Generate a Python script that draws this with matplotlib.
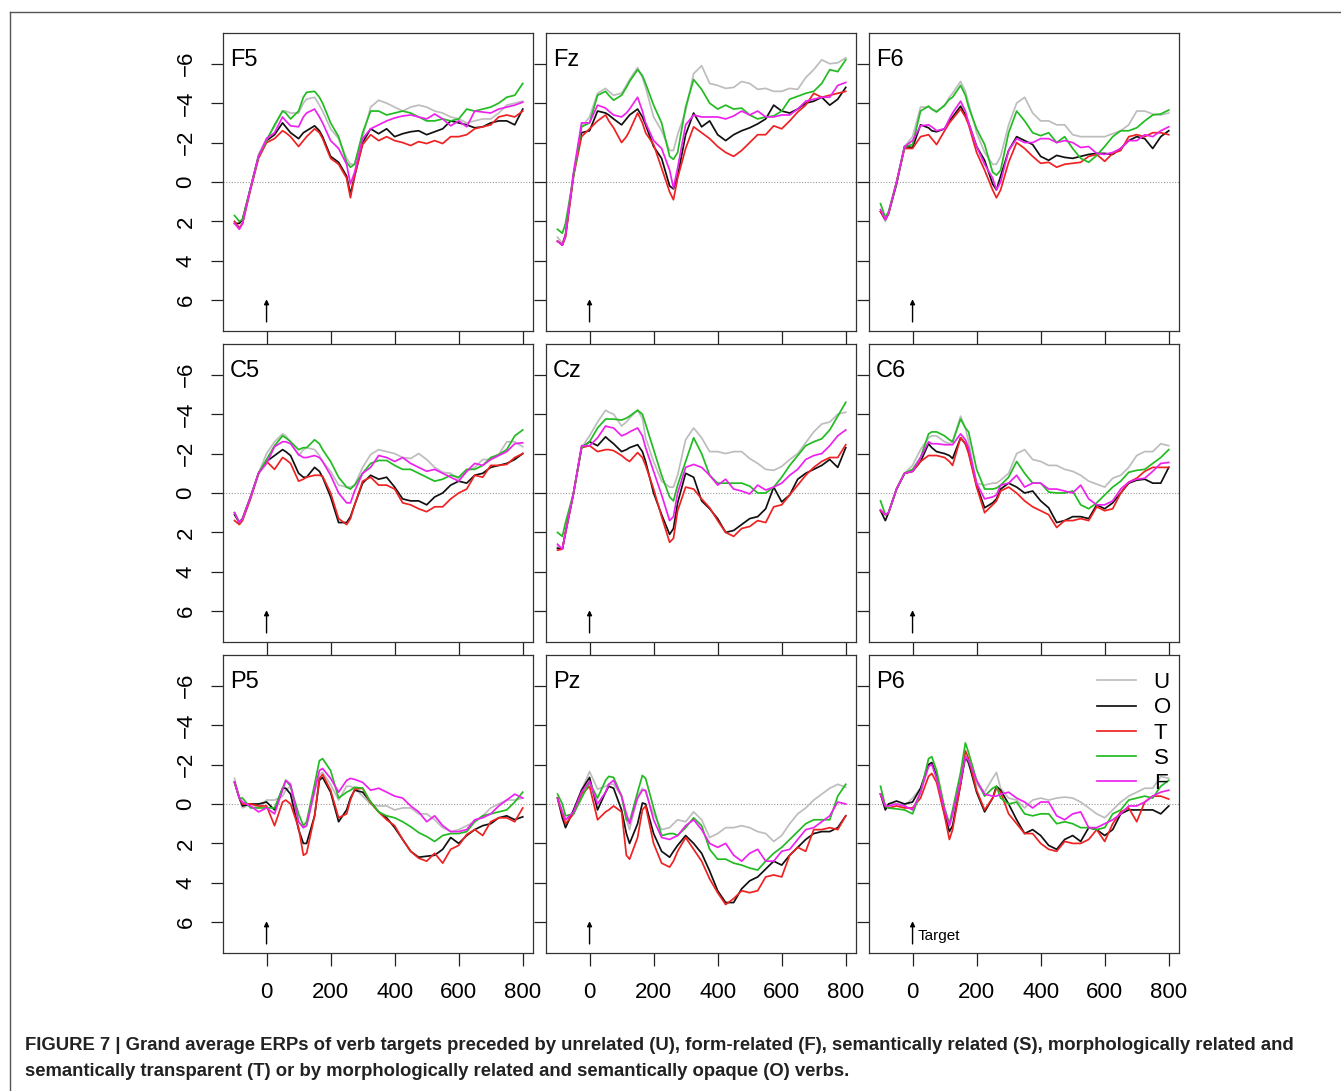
import matplotlib
matplotlib.use('Agg')
import matplotlib.pyplot as plt
from matplotlib.lines import Line2D

plt.rcParams['font.family'] = ['Liberation Sans', 'DejaVu Sans']

# time points (ms)
times = [-100, -85, -75, -50, -25, 0, 25, 50, 60, 75, 100, 115, 125, 150, 165, 175,
         200, 225, 250, 262, 275, 300, 325, 350, 375, 400, 425, 450, 475, 500, 525,
         550, 575, 600, 625, 650, 675, 700, 725, 750, 775, 800]

# --- F5 ---
f5_u = [2.0, 2.3, 2.1, 0.3, -1.4, -2.2, -2.8, -3.6, -3.6, -3.5, -3.5, -4.0, -4.2, -4.3, -3.9, -3.6, -2.7, -2.2, -1.2, -0.9, -0.9, -2.3, -3.8, -4.15, -4.0, -3.8, -3.6, -3.8, -3.9, -3.8, -3.6, -3.5, -3.3, -3.2, -3.0, -3.1, -3.2, -3.2, -3.5, -3.9, -4.0, -4.1]
f5_o = [2.1, 2.1, 1.9, 0.3, -1.3, -2.1, -2.4, -3.0, -2.8, -2.5, -2.2, -2.5, -2.6, -2.85, -2.6, -2.3, -1.3, -1.0, -0.3, 0.6, -0.3, -2.0, -2.7, -2.45, -2.7, -2.3, -2.45, -2.55, -2.6, -2.4, -2.55, -2.7, -3.1, -3.0, -2.9, -2.75, -2.8, -3.0, -3.1, -3.1, -2.9, -3.7]
f5_t = [2.0, 2.35, 2.1, 0.4, -1.2, -2.0, -2.2, -2.6, -2.5, -2.3, -1.8, -2.1, -2.3, -2.7, -2.5, -2.2, -1.2, -0.9, -0.2, 0.8, -0.3, -1.9, -2.4, -2.1, -2.3, -2.1, -2.0, -1.85, -2.05, -1.95, -2.1, -1.95, -2.3, -2.3, -2.4, -2.7, -2.8, -2.9, -3.3, -3.4, -3.3, -3.6]
f5_s = [1.7, 2.0, 1.9, 0.3, -1.3, -2.1, -2.9, -3.6, -3.5, -3.2, -3.6, -4.3, -4.55, -4.6, -4.3, -4.0, -3.0, -2.3, -1.0, -0.75, -0.9, -2.5, -3.6, -3.6, -3.4, -3.5, -3.6, -3.5, -3.3, -3.1, -3.1, -3.2, -3.1, -3.2, -3.7, -3.6, -3.7, -3.8, -4.0, -4.3, -4.4, -5.0]
f5_f = [2.1, 2.4, 2.1, 0.3, -1.3, -2.2, -2.5, -3.3, -3.1, -2.85, -2.8, -3.3, -3.5, -3.7, -3.3, -3.0, -2.1, -1.7, -0.9, 0.1, -0.5, -2.2, -2.7, -2.9, -3.1, -3.25, -3.35, -3.4, -3.3, -3.2, -3.45, -3.2, -2.85, -3.1, -2.8, -3.6, -3.55, -3.5, -3.7, -3.8, -3.9, -4.05]

# --- Fz ---
fz_u = [2.8, 3.1, 2.6, -0.3, -2.8, -3.3, -4.5, -4.75, -4.6, -4.4, -4.5, -4.9, -5.2, -5.8, -5.3, -4.8, -3.3, -2.6, -1.6, -1.6, -2.4, -3.6, -5.5, -5.9, -5.0, -4.9, -4.75, -4.8, -5.1, -5.0, -4.7, -4.75, -4.6, -4.6, -4.75, -4.7, -5.3, -5.7, -6.2, -6.0, -6.05, -6.3]
fz_o = [3.0, 3.2, 2.7, -0.4, -2.5, -2.6, -3.6, -3.5, -3.4, -3.2, -2.9, -3.2, -3.4, -3.7, -3.3, -2.9, -1.8, -1.2, 0.2, 0.35, -0.3, -2.4, -3.5, -2.8, -3.1, -2.4, -2.1, -2.4, -2.6, -2.75, -2.95, -3.2, -3.9, -3.6, -3.5, -3.7, -4.0, -4.1, -4.3, -3.9, -4.2, -4.8]
fz_t = [3.0, 3.2, 2.8, -0.3, -2.3, -2.7, -3.1, -3.4, -3.1, -2.75, -2.0, -2.3, -2.6, -3.5, -3.0, -2.5, -1.9, -0.7, 0.5, 0.9, -0.2, -1.7, -2.8, -2.5, -2.2, -1.8, -1.5, -1.3, -1.6, -2.0, -2.4, -2.4, -2.85, -2.7, -3.1, -3.55, -3.9, -4.5, -4.3, -4.4, -4.5, -4.6]
fz_s = [2.4, 2.6, 2.1, -0.3, -2.8, -3.0, -4.4, -4.6, -4.4, -4.15, -4.4, -4.8, -5.1, -5.7, -5.4, -5.0, -3.9, -3.0, -1.3, -1.15, -1.5, -3.8, -5.2, -4.7, -4.0, -3.7, -3.9, -3.7, -3.75, -3.4, -3.2, -3.3, -3.35, -3.6, -4.2, -4.35, -4.5, -4.6, -5.0, -5.7, -5.6, -6.2]
fz_f = [3.0, 3.2, 2.7, -0.5, -3.0, -3.0, -3.9, -3.75, -3.6, -3.4, -3.3, -3.5, -3.7, -4.3, -3.6, -3.0, -2.1, -1.7, -0.6, 0.3, -0.7, -2.9, -3.4, -3.3, -3.3, -3.3, -3.2, -3.35, -3.6, -3.4, -3.6, -3.3, -3.3, -3.4, -3.4, -3.7, -4.1, -4.2, -4.3, -4.3, -4.9, -5.05]

# --- F6 ---
f6_u = [1.5, 2.0, 1.6, 0.1, -1.8, -2.3, -3.8, -3.8, -3.7, -3.6, -3.85, -4.3, -4.5, -5.1, -4.6, -4.0, -2.5, -1.5, -0.9, -0.9, -1.3, -2.9, -4.0, -4.3, -3.5, -3.1, -3.1, -2.9, -2.9, -2.4, -2.3, -2.3, -2.3, -2.3, -2.45, -2.6, -2.9, -3.6, -3.6, -3.45, -3.4, -3.5]
f6_o = [1.5, 1.9, 1.6, 0.1, -1.8, -1.75, -2.9, -2.75, -2.6, -2.55, -2.7, -3.1, -3.3, -3.85, -3.4, -3.0, -1.8, -1.1, 0.1, 0.4, -0.3, -1.6, -2.3, -2.1, -1.9, -1.3, -1.1, -1.35, -1.25, -1.2, -1.3, -1.4, -1.45, -1.45, -1.4, -1.7, -2.1, -2.3, -2.2, -1.7, -2.3, -2.6]
f6_t = [1.5, 1.9, 1.6, 0.0, -1.7, -1.7, -2.3, -2.4, -2.2, -1.9, -2.6, -3.0, -3.2, -3.7, -3.3, -2.9, -1.5, -0.6, 0.4, 0.8, 0.4, -1.0, -2.0, -1.7, -1.3, -0.95, -1.0, -0.75, -0.9, -0.95, -1.0, -1.3, -1.4, -1.05, -1.45, -1.6, -2.3, -2.4, -2.3, -2.5, -2.5, -2.4]
f6_s = [1.1, 1.8, 1.5, 0.0, -1.8, -1.9, -3.6, -3.85, -3.7, -3.55, -3.9, -4.2, -4.3, -4.9, -4.4, -3.8, -2.7, -1.9, -0.5, -0.35, -0.6, -2.5, -3.6, -3.1, -2.5, -2.35, -2.5, -2.0, -2.3, -1.7, -1.2, -1.0, -1.35, -1.8, -2.3, -2.6, -2.6, -2.75, -3.1, -3.4, -3.45, -3.65]
f6_f = [1.4, 1.9, 1.6, 0.0, -1.8, -2.1, -2.85, -2.9, -2.8, -2.6, -2.7, -3.2, -3.5, -4.1, -3.6, -3.0, -1.8, -0.9, -0.2, 0.4, 0.0, -1.6, -2.2, -2.0, -2.0, -2.2, -2.2, -2.0, -2.1, -2.0, -1.75, -1.8, -1.45, -1.4, -1.5, -1.7, -2.1, -2.1, -2.4, -2.3, -2.6, -2.8]

# --- C5 ---
c5_u = [1.0, 1.5, 1.3, 0.2, -1.0, -2.0, -2.6, -3.0, -2.9, -2.6, -1.9, -2.2, -2.3, -2.2, -1.9, -1.6, -1.1, -0.4, -0.3, -0.3, -0.4, -1.3, -1.95, -2.2, -2.1, -2.0, -1.8, -1.75, -2.0, -1.7, -1.3, -1.05, -1.0, -0.7, -1.1, -1.3, -1.7, -1.7, -1.95, -2.6, -2.6, -2.35]
c5_o = [1.1, 1.5, 1.3, 0.2, -1.0, -1.6, -1.9, -2.2, -2.1, -1.9, -1.0, -0.8, -0.8, -1.3, -1.1, -0.8, 0.2, 1.5, 1.5, 1.2, 0.6, -0.5, -0.9, -0.7, -0.8, -0.3, 0.3, 0.4, 0.4, 0.6, 0.2, 0.0, -0.4, -0.6, -0.5, -0.9, -1.0, -1.3, -1.4, -1.5, -1.7, -2.0]
c5_t = [1.4, 1.6, 1.4, 0.3, -1.0, -1.6, -1.2, -1.8, -1.7, -1.5, -0.6, -0.7, -0.8, -0.9, -0.9, -0.85, 0.0, 1.3, 1.6, 1.3, 0.6, -0.6, -0.8, -0.4, -0.4, -0.2, 0.5, 0.6, 0.8, 0.95, 0.7, 0.7, 0.3, 0.0, -0.2, -0.9, -0.8, -1.4, -1.4, -1.45, -1.8, -2.0]
c5_s = [1.0, 1.5, 1.3, 0.2, -1.0, -1.7, -2.4, -2.9, -2.8, -2.6, -2.2, -2.3, -2.3, -2.7, -2.5, -2.2, -1.6, -0.8, -0.3, -0.2, -0.4, -1.0, -1.5, -1.65, -1.65, -1.4, -1.2, -1.2, -1.0, -0.8, -0.6, -0.7, -0.9, -0.8, -1.2, -1.2, -1.4, -1.8, -1.95, -2.2, -2.9, -3.2]
c5_f = [1.0, 1.5, 1.3, 0.2, -1.0, -1.5, -2.35, -2.6, -2.6, -2.5, -1.95, -1.8, -1.8, -1.9, -1.8, -1.6, -0.9, 0.0, 0.5, 0.5, -0.1, -1.0, -1.3, -1.9, -1.8, -1.6, -1.8, -1.5, -1.3, -1.1, -1.2, -1.0, -0.8, -0.6, -1.1, -1.5, -1.4, -1.7, -1.9, -2.1, -2.5, -2.55]

# --- Cz ---
cz_u = [2.7, 2.85, 2.0, 0.0, -2.3, -2.9, -3.6, -4.2, -4.1, -4.0, -3.4, -3.6, -3.8, -4.2, -3.8, -2.8, -1.6, -0.6, -0.3, -0.3, -0.9, -2.7, -3.3, -2.8, -2.1, -2.1, -2.0, -2.1, -2.1, -1.75, -1.5, -1.2, -1.15, -1.35, -1.7, -2.0, -2.55, -3.1, -3.5, -3.6, -4.0, -4.1]
cz_o = [2.8, 2.85, 2.0, 0.0, -2.3, -2.6, -2.4, -2.85, -2.7, -2.5, -2.1, -2.2, -2.3, -2.45, -2.1, -1.6, 0.0, 1.1, 2.1, 1.8, 0.5, -1.0, -0.8, 0.4, 0.8, 1.3, 2.0, 1.9, 1.6, 1.3, 1.2, 0.8, -0.3, 0.45, 0.1, -0.7, -1.0, -1.2, -1.4, -1.7, -1.3, -2.3]
cz_t = [2.9, 2.85, 2.0, 0.0, -2.3, -2.4, -2.1, -2.2, -2.2, -2.15, -1.9, -1.7, -1.6, -2.05, -1.8, -1.4, -0.2, 1.2, 2.5, 2.3, 0.9, -0.3, -0.2, 0.3, 0.75, 1.4, 2.0, 2.2, 1.8, 1.7, 1.4, 1.5, 0.7, 0.6, 0.1, -0.4, -0.9, -1.3, -1.6, -1.8, -1.8, -2.45]
cz_s = [2.0, 2.2, 1.5, 0.0, -2.3, -2.6, -3.3, -3.75, -3.75, -3.75, -3.7, -3.8, -3.9, -4.2, -4.0, -3.5, -2.2, -0.9, 0.2, 0.4, -0.4, -1.6, -2.8, -2.0, -0.9, -0.5, -0.5, -0.5, -0.5, -0.35, 0.0, 0.0, -0.3, -0.8, -1.4, -1.9, -2.4, -2.6, -2.75, -3.2, -3.9, -4.6]
cz_f = [2.6, 2.85, 2.0, 0.0, -2.4, -2.4, -2.8, -3.4, -3.35, -3.3, -2.9, -3.0, -3.1, -3.3, -2.9, -2.3, -1.1, 0.1, 1.4, 1.2, 0.0, -1.3, -1.45, -1.3, -0.9, -0.4, -0.7, -0.2, -0.1, 0.05, -0.4, -0.15, -0.3, -0.5, -0.9, -1.2, -1.7, -1.9, -2.0, -2.4, -2.9, -3.2]

# --- C6 ---
c6_u = [0.9, 1.1, 1.0, -0.2, -1.0, -1.4, -2.2, -2.8, -2.9, -2.9, -2.6, -2.5, -2.6, -3.9, -3.3, -2.6, -0.5, -0.4, -0.5, -0.5, -0.65, -1.0, -2.0, -2.2, -1.7, -1.6, -1.4, -1.4, -1.2, -1.1, -0.9, -0.6, -0.45, -0.3, -0.75, -0.9, -1.3, -1.9, -2.1, -2.1, -2.5, -2.4]
c6_o = [0.9, 1.4, 1.0, -0.2, -1.0, -1.1, -1.6, -2.5, -2.3, -2.1, -2.0, -1.9, -1.75, -2.8, -2.5, -2.1, -0.4, 0.75, 0.5, 0.3, -0.2, -0.5, -0.3, 0.0, -0.1, 0.4, 0.75, 1.5, 1.4, 1.2, 1.2, 1.3, 0.6, 0.8, 0.5, 0.0, -0.5, -0.65, -0.7, -0.5, -0.5, -1.3]
c6_t = [0.9, 1.1, 1.0, -0.2, -1.0, -1.1, -1.6, -1.9, -1.9, -1.9, -1.8, -1.6, -1.4, -2.8, -2.5, -2.0, -0.3, 1.0, 0.6, 0.4, -0.1, -0.3, 0.0, 0.4, 0.7, 0.9, 1.1, 1.75, 1.4, 1.4, 1.3, 1.4, 0.7, 0.9, 0.8, 0.0, -0.55, -0.75, -1.1, -1.3, -1.3, -1.3]
c6_s = [0.4, 1.1, 1.0, -0.2, -1.0, -1.2, -1.8, -3.0, -3.1, -3.1, -2.9, -2.7, -2.6, -3.75, -3.3, -3.1, -1.2, -0.2, -0.2, -0.25, -0.4, -0.8, -1.6, -1.0, -0.5, -0.5, -0.05, 0.0, 0.0, -0.1, 0.6, 0.8, 0.5, 0.1, -0.3, -0.6, -1.05, -1.15, -1.2, -1.5, -1.8, -2.2]
c6_f = [0.85, 1.1, 1.0, -0.2, -1.0, -1.1, -1.8, -2.6, -2.5, -2.5, -2.45, -2.45, -2.45, -3.0, -2.7, -2.3, -0.5, 0.3, 0.2, 0.1, -0.4, -0.5, -0.9, -0.3, -0.5, -0.5, -0.2, -0.2, -0.1, 0.0, -0.4, 0.3, 0.6, 0.6, 0.4, -0.2, -0.55, -0.7, -0.75, -1.1, -1.5, -1.55]

# --- P5 ---
p5_u = [-1.3, -0.3, 0.2, 0.0, 0.2, -0.2, -0.2, -0.4, -0.7, -0.9, 0.9, 1.2, 1.1, -0.6, -1.5, -1.6, -1.0, -0.2, -0.9, -0.9, -0.8, -0.4, 0.0, 0.1, 0.1, 0.3, 0.2, 0.2, 0.5, 0.5, 0.8, 1.2, 1.4, 1.3, 1.1, 0.9, 0.6, 0.2, 0.0, -0.2, -0.2, -0.3]
p5_o = [-1.1, -0.3, 0.1, 0.0, 0.0, -0.1, 0.3, -0.8, -0.8, -0.5, 1.3, 2.0, 2.0, 0.6, -1.2, -1.35, -0.6, 0.9, 0.3, -0.3, -0.7, -0.6, -0.1, 0.4, 0.7, 1.2, 1.8, 2.4, 2.7, 2.65, 2.6, 2.3, 1.7, 2.0, 1.6, 1.3, 1.1, 1.0, 0.7, 0.6, 0.8, 0.65]
p5_t = [-1.1, -0.3, 0.0, 0.0, 0.1, 0.1, 1.1, -0.1, -0.2, 0.0, 1.2, 2.6, 2.5, 0.6, -1.3, -1.5, -0.7, 0.7, 0.5, -0.2, -0.75, -0.8, -0.05, 0.4, 0.8, 1.1, 1.8, 2.4, 2.75, 2.9, 2.5, 3.0, 2.3, 2.1, 1.55, 1.3, 1.6, 0.9, 0.7, 0.7, 0.9, 0.2]
p5_s = [-1.1, -0.3, -0.3, 0.2, 0.2, 0.2, 0.2, -0.8, -1.2, -0.9, 0.5, 1.1, 0.9, -1.0, -2.2, -2.3, -1.7, -0.3, -0.6, -0.7, -0.85, -0.8, -0.1, 0.4, 0.6, 0.7, 0.9, 1.15, 1.45, 1.65, 1.9, 1.6, 1.5, 1.5, 1.4, 0.9, 0.6, 0.5, 0.4, 0.3, -0.1, -0.6]
p5_f = [-1.1, -0.3, -0.1, 0.1, 0.4, 0.2, 0.5, -0.7, -1.2, -1.0, 0.9, 1.2, 1.1, -0.7, -1.7, -1.8, -1.3, -0.6, -1.2, -1.3, -1.25, -1.1, -0.7, -0.8, -0.6, -0.4, -0.3, 0.1, 0.4, 0.9, 0.6, 1.1, 1.4, 1.4, 1.3, 0.8, 0.7, 0.5, 0.1, -0.2, -0.5, -0.3]

# --- Pz ---
pz_u = [-0.3, 0.4, 0.8, 0.5, -0.7, -1.65, -0.75, -0.9, -1.0, -1.0, -0.4, 0.8, 1.3, -0.4, -0.8, -0.6, 0.5, 1.3, 1.2, 1.0, 0.8, 0.9, 0.4, 0.8, 1.7, 1.5, 1.2, 1.2, 1.1, 1.2, 1.4, 1.5, 1.9, 1.6, 1.0, 0.5, 0.2, -0.2, -0.5, -0.8, -1.0, -0.85]
pz_o = [-0.3, 0.7, 1.2, 0.3, -0.7, -1.35, 0.3, -0.6, -0.9, -0.8, 0.3, 1.5, 2.0, 1.0, -0.05, 0.0, 1.5, 2.4, 2.7, 2.4, 2.1, 1.6, 2.0, 2.5, 3.4, 4.4, 5.0, 5.0, 4.3, 3.9, 3.7, 3.3, 2.9, 3.1, 2.6, 2.2, 1.8, 1.5, 1.4, 1.4, 1.2, 0.6]
pz_t = [-0.3, 0.5, 1.0, 0.5, -0.5, -0.9, 0.8, 0.4, 0.3, 0.1, 0.4, 2.6, 2.8, 1.7, 0.3, 0.1, 2.0, 3.0, 3.2, 2.9, 2.4, 1.7, 2.3, 2.9, 3.8, 4.5, 5.1, 4.8, 4.4, 4.5, 4.4, 3.7, 3.6, 3.7, 2.6, 2.2, 2.4, 1.3, 1.3, 1.2, 1.3, 0.6]
pz_s = [-0.5, 0.0, 0.6, 0.5, -0.3, -1.1, -0.3, -1.2, -1.4, -1.35, -0.4, 0.8, 0.9, -0.6, -1.45, -1.3, 0.2, 1.6, 1.5, 1.5, 1.6, 1.2, 0.7, 1.1, 2.3, 2.8, 2.8, 3.0, 3.1, 3.25, 3.35, 2.9, 2.5, 2.2, 1.8, 1.4, 1.0, 0.8, 0.8, 0.8, -0.4, -1.0]
pz_f = [-0.3, 0.4, 0.8, 0.4, -0.6, -1.15, 0.0, -0.6, -1.0, -1.2, -0.4, 0.5, 1.0, -0.3, -0.7, -0.7, 0.8, 1.7, 1.8, 1.7, 1.6, 1.1, 0.8, 1.3, 2.0, 2.2, 2.0, 2.6, 2.9, 2.5, 2.3, 2.9, 2.9, 2.4, 2.3, 1.8, 1.3, 1.2, 0.9, 0.6, -0.1, 0.0]

# --- P6 ---
p6_u = [-0.5, 0.1, 0.0, 0.0, 0.1, -0.3, -0.8, -2.0, -2.1, -1.5, 0.3, 1.1, 0.6, -1.3, -2.4, -2.0, -1.0, -0.6, -1.3, -1.6, -0.8, -0.3, -0.2, 0.2, -0.2, -0.3, -0.2, -0.3, -0.35, -0.3, -0.1, 0.2, 0.5, 0.7, 0.3, -0.1, -0.4, -0.6, -0.8, -0.8, -1.4, -1.3]
p6_o = [-0.5, 0.3, 0.0, -0.15, 0.0, -0.1, -0.8, -2.0, -2.1, -1.4, 0.5, 1.4, 1.1, -1.0, -2.4, -2.1, -0.6, 0.4, -0.3, -0.9, -0.7, 0.0, 0.8, 1.5, 1.3, 1.6, 2.1, 2.3, 1.8, 1.6, 1.9, 1.2, 1.3, 1.6, 1.3, 0.5, 0.3, 0.3, 0.3, 0.3, 0.5, 0.1]
p6_t = [-0.5, 0.1, 0.2, 0.1, 0.2, 0.2, -0.3, -1.4, -1.55, -1.1, 0.6, 1.8, 1.3, -1.0, -2.7, -2.3, -0.7, 0.3, -0.3, -0.8, -0.6, 0.5, 1.0, 1.5, 1.5, 2.0, 2.3, 2.4, 1.9, 2.0, 2.0, 1.8, 1.3, 1.9, 1.0, 0.4, 0.2, 0.9, -0.1, -0.4, -0.4, -0.25]
p6_s = [-0.9, 0.1, 0.2, 0.25, 0.3, 0.5, -0.6, -2.3, -2.4, -1.7, 0.2, 1.0, 0.3, -1.6, -3.1, -2.6, -1.2, -0.4, -0.8, -0.9, -0.3, 0.0, -0.1, 0.5, 0.6, 0.5, 0.5, 1.0, 0.9, 1.0, 1.2, 1.2, 1.3, 1.2, 0.5, 0.3, -0.2, -0.3, -0.4, -0.3, -0.9, -1.2]
p6_f = [-0.5, 0.1, 0.1, 0.0, 0.1, 0.3, -0.6, -1.9, -2.0, -1.3, 0.3, 1.1, 0.5, -1.2, -2.4, -2.2, -1.2, -0.5, -0.4, -0.4, -0.5, -0.6, -0.3, -0.1, 0.2, -0.1, -0.1, 0.6, 0.8, 0.5, 0.4, 1.2, 1.2, 1.0, 0.8, 0.5, 0.1, 0.1, -0.1, -0.4, -0.6, -0.7]

panel_names = [['F5', 'Fz', 'F6'], ['C5', 'Cz', 'C6'], ['P5', 'Pz', 'P6']]
panel_data = {
    'F5': [f5_u, f5_o, f5_t, f5_s, f5_f],
    'Fz': [fz_u, fz_o, fz_t, fz_s, fz_f],
    'F6': [f6_u, f6_o, f6_t, f6_s, f6_f],
    'C5': [c5_u, c5_o, c5_t, c5_s, c5_f],
    'Cz': [cz_u, cz_o, cz_t, cz_s, cz_f],
    'C6': [c6_u, c6_o, c6_t, c6_s, c6_f],
    'P5': [p5_u, p5_o, p5_t, p5_s, p5_f],
    'Pz': [pz_u, pz_o, pz_t, pz_s, pz_f],
    'P6': [p6_u, p6_o, p6_t, p6_s, p6_f],
}
conditions = ['U', 'O', 'T', 'S', 'F']
colors = ['#bdbdbd', '#111111', '#ee2222', '#22bb22', '#ee22ee']
xticks = [0, 200, 400, 600, 800]
yticks = [-6, -4, -2, 0, 2, 4, 6]

caption1 = ('FIGURE 7 | Grand average ERPs of verb targets preceded by unrelated (U), '
            'form-related (F), semantically related (S), morphologically related and')
caption2 = ('semantically transparent (T) or by morphologically related and '
            'semantically opaque (O) verbs.')

W, H = 1341, 1091
fig = plt.figure(figsize=(W / 100, H / 100), dpi=100)

lefts = [223, 546, 869]
tops = [33, 344, 655]
pw, ph = 310, 298

for r in range(3):
    for c in range(3):
        name = panel_names[r][c]
        ax = fig.add_axes([lefts[c] / W, 1 - (tops[r] + ph) / H, pw / W, ph / H])
        ax.axhline(0, color='#9a9a9a', lw=0.8, ls=(0, (1, 1.5)), zorder=1)
        for cond, col, vals in zip(conditions, colors, panel_data[name]):
            ax.plot(times, vals, color=col, lw=1.25, label=cond, zorder=2)
        ax.set_xlim(-136, 832)
        ax.set_ylim(7.56, -7.56)
        ax.set_xticks(xticks)
        ax.set_yticks(yticks)
        ax.tick_params(direction='out', length=9, width=0.9,
                       labelsize=16, color='#222222')
        ax.tick_params(axis='x', pad=12)
        ax.tick_params(axis='y', pad=10)
        for sp in ax.spines.values():
            sp.set_color('#333333')
            sp.set_linewidth(0.9)
        if c > 0:
            ax.tick_params(labelleft=False)
        else:
            for lab in ax.get_yticklabels():
                lab.set_rotation(90)
                lab.set_va('center')
        if r < 2:
            ax.tick_params(labelbottom=False)
        ax.text(0.023, 0.91, name, transform=ax.transAxes, fontsize=17,
                ha='left', va='center')
        ax.annotate('', xy=(0, 5.95), xytext=(0, 7.1),
                    arrowprops=dict(arrowstyle='-|>', color='black', lw=1,
                                    shrinkA=0, shrinkB=0, mutation_scale=7))
        if name == 'P6':
            ax.text(15, 6.7, 'Target', fontsize=11, ha='left', va='center')
            ax.legend(loc='upper right', bbox_to_anchor=(1.01, 0.98), frameon=False,
                      fontsize=16, handlelength=1.75, handletextpad=0.8,
                      labelspacing=0.19, borderaxespad=0.2, borderpad=0.3)

# outer frame
fig.add_artist(Line2D([10 / W, 10 / W], [0, 1 - 12 / H], transform=fig.transFigure,
                      color='#555555', lw=1))
fig.add_artist(Line2D([10 / W, 1], [1 - 12 / H, 1 - 12 / H], transform=fig.transFigure,
                      color='#555555', lw=1))

# caption, condensed bold
cap_family = ['Liberation Sans Narrow', 'Liberation Sans', 'DejaVu Sans']
t1 = fig.text(25 / W, 1 - 1046 / H, caption1, fontsize=12, fontweight='bold',
              family=cap_family, ha='left', va='center', color='#222222')
t2 = fig.text(25 / W, 1 - 1071 / H, caption2, fontsize=12, fontweight='bold',
              family=cap_family, ha='left', va='center', color='#222222')
fig.canvas.draw()
bw = t1.get_window_extent().width
scale = 1268 / bw
t1.set_fontsize(12 * scale)
t2.set_fontsize(12 * scale)

fig.savefig('out.png', dpi=100)
